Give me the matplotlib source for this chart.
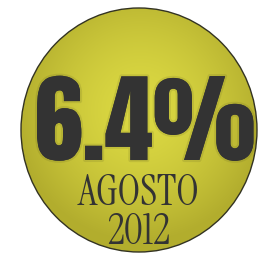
import numpy as np
import matplotlib.pyplot as plt
import matplotlib.patheffects as pe
from matplotlib.patches import Ellipse

value_label = "6.4%"
month_label = "AGOSTO"
year_label = "2012"

W, H = 258, 265
fig = plt.figure(figsize=(W / 100, H / 100), dpi=100)
ax = fig.add_axes([0, 0, 1, 1])
ax.set_xlim(0, W)
ax.set_ylim(H, 0)
ax.axis("off")

# radial gradient for the badge
cx, cy, rx, ry = 139, 130, 118, 122
yy, xx = np.mgrid[0:H, 0:W]
d = np.sqrt(((xx - 140) / 125.0) ** 2 + ((yy - 110) / 130.0) ** 2)
d = np.clip(d, 0, 1)
c0 = np.array([0.86, 0.85, 0.26])
c1 = np.array([0.70, 0.68, 0.18])
img = c0 + (c1 - c0) * d[..., None] ** 1.6
im = ax.imshow(img, extent=(0, W, H, 0), zorder=1)
badge = Ellipse((cx, cy), 2 * rx, 2 * ry, facecolor="none", edgecolor="#333322", lw=1.0, zorder=2)
ax.add_patch(badge)
im.set_clip_path(badge)

glow = [pe.withStroke(linewidth=3, foreground=(0.25, 0.25, 0.1, 0.12))]
ax.text(145, 124, value_label, ha="center", va="center", fontsize=70,
        family=["Anton", "DejaVu Sans"], color="#333333", zorder=3, path_effects=glow)
ax.text(139, 213, month_label + "\n" + year_label, ha="center", va="center",
        multialignment="center", linespacing=0.95, fontsize=30,
        family=["Instrument Serif", "Liberation Serif"], color="#333333", zorder=3)

fig.savefig("out.png", dpi=100)
